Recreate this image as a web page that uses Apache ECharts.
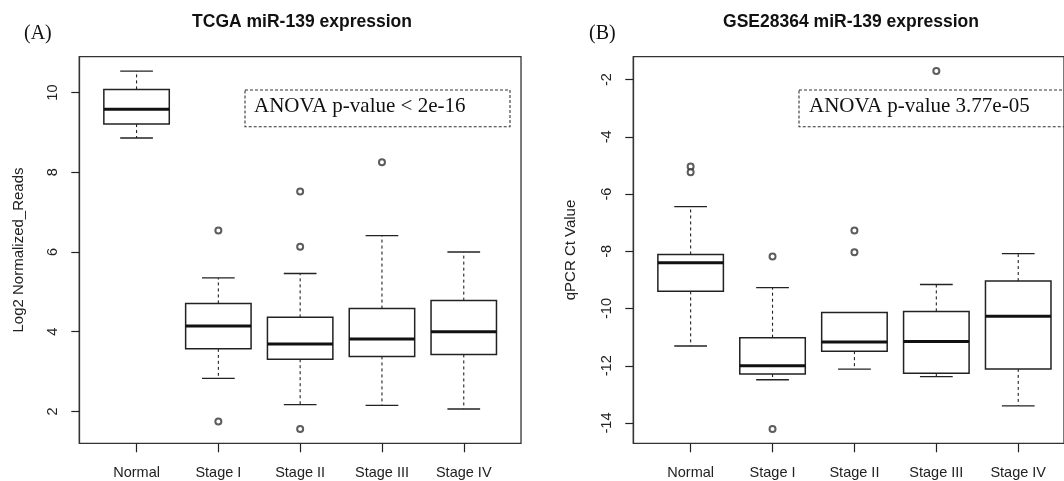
<!DOCTYPE html>
<html>
<head>
<meta charset="utf-8">
<script src="https://cdn.jsdelivr.net/npm/echarts@6/dist/echarts.min.js"></script>
<style>
  html, body { margin: 0; padding: 0; background: #fff; }
  #chart { width: 1064px; height: 481px; }
</style>
</head>
<body>
<div id="chart"></div>
<script>
const categories = ['Normal', 'Stage I', 'Stage II', 'Stage III', 'Stage IV']

// each box: [lower whisker, Q1, median, Q3, upper whisker]
const tcgaBoxes = [
  [8.86, 9.21, 9.58, 10.08, 10.54],
  [2.83, 3.57, 4.14, 4.71, 5.35],
  [2.17, 3.31, 3.69, 4.36, 5.46],
  [2.15, 3.38, 3.82, 4.58, 6.41],
  [2.06, 3.43, 4.0, 4.78, 6.0]
]
// [category index, value]
const tcgaOutliers = [[1, 6.54], [1, 1.75], [2, 7.52], [2, 6.13], [2, 1.56], [3, 8.25]]
const tcgaTicks = [2, 4, 6, 8, 10]

const gseBoxes = [
  [-11.31, -9.4, -8.4, -8.11, -6.44],
  [-12.49, -12.29, -12.0, -11.02, -9.27],
  [-12.12, -11.49, -11.17, -10.14, -10.14],
  [-12.38, -12.26, -11.15, -10.1, -9.16],
  [-13.4, -12.11, -10.27, -9.04, -8.08]
]
const gseOutliers = [[0, -5.04], [0, -5.24], [1, -8.18], [1, -14.21], [2, -7.27], [2, -8.03], [3, -1.7]]
const gseTicks = [-14, -12, -10, -8, -6, -4, -2]

const INK = '#222'
const SANS = '"Liberation Sans", Arial, sans-serif'
const SERIF = '"Liberation Serif", "Times New Roman", serif'

// R style box: dashed whiskers, half-width caps, thick median
function renderBox(params, api) {
  const idx = api.value(0)
  const low = api.coord([idx, api.value(1)])
  const q1 = api.coord([idx, api.value(2)])
  const med = api.coord([idx, api.value(3)])
  const q3 = api.coord([idx, api.value(4)])
  const high = api.coord([idx, api.value(5)])
  const w = api.size([1, 0])[0] * 0.8
  const x = med[0]
  const thin = { stroke: INK, lineWidth: 1.3 }
  const dash = { stroke: INK, lineWidth: 1.1, lineDash: [3, 3] }
  return {
    type: 'group',
    children: [
      { type: 'line', shape: { x1: x, y1: q3[1], x2: x, y2: high[1] }, style: dash },
      { type: 'line', shape: { x1: x, y1: q1[1], x2: x, y2: low[1] }, style: dash },
      { type: 'line', shape: { x1: x - w / 4, y1: high[1], x2: x + w / 4, y2: high[1] }, style: thin },
      { type: 'line', shape: { x1: x - w / 4, y1: low[1], x2: x + w / 4, y2: low[1] }, style: thin },
      {
        type: 'rect',
        shape: { x: x - w / 2, y: q3[1], width: w, height: q1[1] - q3[1] },
        style: { fill: '#fff', stroke: INK, lineWidth: 1.5 }
      },
      { type: 'line', shape: { x1: x - w / 2, y1: med[1], x2: x + w / 2, y2: med[1] }, style: { stroke: '#111', lineWidth: 3 } }
    ]
  }
}

function buildPanel(opt, p) {
  const frameIdx = opt.grid.length
  const dataIdx = frameIdx + 1
  const unit = p.unit
  opt.grid.push({
    left: p.left, top: 56.7, width: unit * 5.4, height: 386.6,
    show: true, borderColor: '#333', borderWidth: 1.3, backgroundColor: 'transparent'
  })
  opt.grid.push({
    left: p.left + unit * 0.2, top: 56.7, width: unit * 5, height: 386.6
  })
  opt.xAxis.push({ gridIndex: frameIdx, type: 'value', show: false, min: 0, max: 1 })
  opt.xAxis.push({
    gridIndex: dataIdx,
    type: 'category',
    data: categories,
    axisLine: { show: false },
    axisTick: { show: true, alignWithLabel: true, length: 9, lineStyle: { color: INK, width: 1.2 } },
    axisLabel: { color: INK, fontSize: 14.5, fontFamily: SANS, margin: 22 },
    splitLine: { show: false }
  })
  opt.yAxis.push({
    gridIndex: frameIdx,
    type: 'value',
    min: p.min,
    max: p.max,
    name: p.yName,
    nameLocation: 'middle',
    nameGap: p.nameGap,
    nameTextStyle: { color: INK, fontSize: 15, fontFamily: SANS },
    axisLine: { show: true, lineStyle: { color: '#333', width: 1.3 } },
    axisTick: { show: true, length: 8, customValues: p.ticks, lineStyle: { color: INK, width: 1.2 } },
    axisLabel: { color: INK, fontSize: 14.5, fontFamily: SANS, rotate: 90, margin: 19, customValues: p.ticks },
    splitLine: { show: false }
  })
  opt.yAxis.push({ gridIndex: dataIdx, type: 'value', min: p.min, max: p.max, show: false })
  const axisIdx = opt.xAxis.length - 1
  opt.series.push({
    type: 'custom',
    xAxisIndex: axisIdx,
    yAxisIndex: axisIdx,
    renderItem: renderBox,
    encode: { x: 0, y: [1, 2, 3, 4, 5] },
    data: p.boxes.map((b, i) => [i].concat(b)),
    silent: true
  })
  opt.series.push({
    type: 'scatter',
    xAxisIndex: axisIdx,
    yAxisIndex: axisIdx,
    symbol: 'emptyCircle',
    symbolSize: 6,
    itemStyle: { color: '#333', borderWidth: 0.9 },
    data: p.outliers,
    silent: true,
    z: 5
  })
  opt.title.push({
    text: p.title,
    left: p.titleX,
    top: 8,
    textAlign: 'center',
    textStyle: { fontSize: 17.5, fontWeight: 'bold', fontFamily: SANS, color: '#111' }
  })
  opt.graphic.push(
    { type: 'text', left: p.tagX, top: 24, style: { text: p.tag, font: '20px ' + SERIF, fill: '#111' } },
    {
      type: 'rect',
      shape: { x: p.noteBox[0], y: 90, width: p.noteBox[1], height: 36.7 },
      style: { fill: 'none', stroke: '#333', lineWidth: 1.1, lineDash: [3, 2] }
    },
    { type: 'text', left: p.noteX, top: 96, style: { text: p.note, font: '21px ' + SERIF, fill: '#111' } }
  )
}

const option = { animation: false, title: [], grid: [], xAxis: [], yAxis: [], series: [], graphic: [] }

buildPanel(option, {
  left: 79.3, unit: 81.8, min: 1.2, max: 10.9, ticks: tcgaTicks,
  boxes: tcgaBoxes, outliers: tcgaOutliers,
  yName: 'Log2 Normalized_Reads', nameGap: 53,
  title: 'TCGA miR-139 expression', titleX: 297, tag: '(A)', tagX: 24,
  note: 'ANOVA p-value < 2e-16', noteBox: [245, 265], noteX: 254
})
buildPanel(option, {
  left: 633.3, unit: 81.9, min: -14.71, max: -1.2, ticks: gseTicks,
  boxes: gseBoxes, outliers: gseOutliers,
  yName: 'qPCR Ct Value', nameGap: 55,
  title: 'GSE28364 miR-139 expression', titleX: 846, tag: '(B)', tagX: 589,
  note: 'ANOVA p-value 3.77e-05', noteBox: [799, 280], noteX: 809
})

const chart = echarts.init(document.getElementById('chart'), null, { renderer: 'canvas' })
chart.setOption(option)
</script>
</body>
</html>
